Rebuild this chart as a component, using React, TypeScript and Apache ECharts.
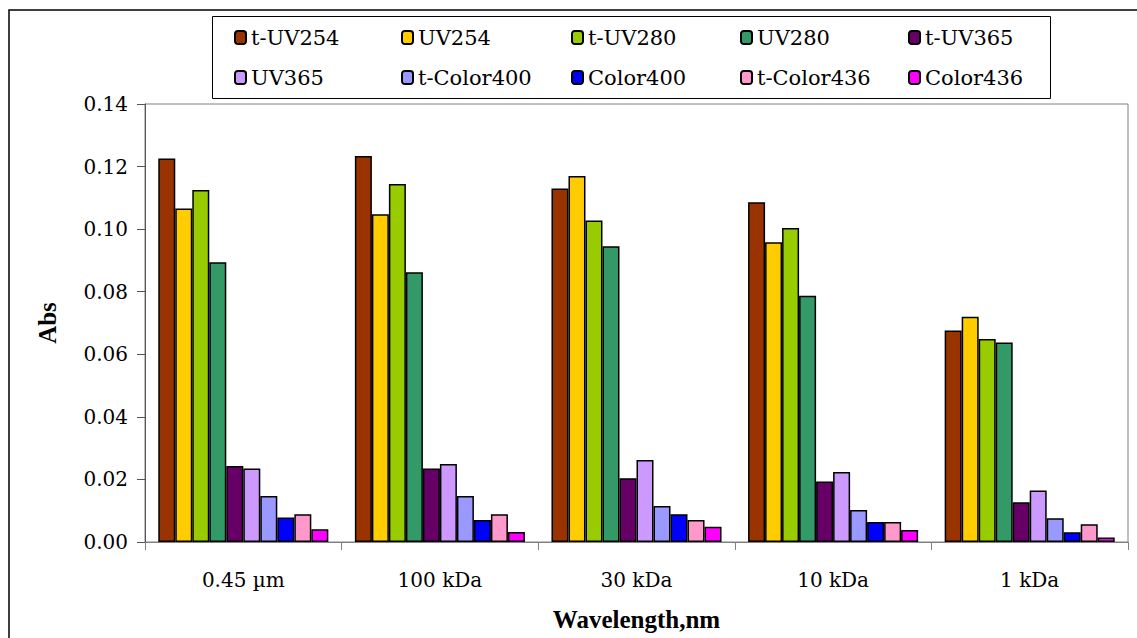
import React, { useEffect, useRef } from "react";
import * as echarts from "echarts";

// Membrane fractions along the x axis
const categories = ["0.45 µm", "100 kDa", "30 kDa", "10 kDa", "1 kDa"];

// Absorbance per fraction (t- = total, plain = filtered)
const tUV254 = [0.1226, 0.1234, 0.113, 0.1086, 0.0676];
const UV254 = [0.1066, 0.1048, 0.117, 0.0958, 0.072];
const tUV280 = [0.1125, 0.1144, 0.1028, 0.1004, 0.0649];
const UV280 = [0.0894, 0.0862, 0.0945, 0.0787, 0.0638];
const tUV365 = [0.0243, 0.0235, 0.0204, 0.0193, 0.0127];
const UV365 = [0.0235, 0.0249, 0.0262, 0.0224, 0.0165];
const tColor400 = [0.0147, 0.0147, 0.0115, 0.0102, 0.0076];
const Color400 = [0.0078, 0.007, 0.0089, 0.0064, 0.0031];
const tColor436 = [0.0089, 0.0089, 0.007, 0.0064, 0.0057];
const Color436 = [0.0041, 0.0032, 0.0049, 0.0038, 0.0014];

const seriesNames = [
  "t-UV254", "UV254", "t-UV280", "UV280", "t-UV365",
  "UV365", "t-Color400", "Color400", "t-Color436", "Color436",
];
const seriesValues = [
  tUV254, UV254, tUV280, UV280, tUV365,
  UV365, tColor400, Color400, tColor436, Color436,
];
const seriesColors = [
  "#993300", "#FFCC00", "#99CC00", "#339966", "#660066",
  "#CC99FF", "#9999FF", "#0000FF", "#FF99CC", "#FF00FF",
];

const yTicks = { min: 0, max: 0.14, interval: 0.02 };

const FONT = "DejaVu Serif";
const FONT_BOLD = "Liberation Serif";

export default function App() {
  const ref = useRef<HTMLDivElement>(null);

  useEffect(() => {
    document.body.style.margin = "0";
    if (!ref.current) return;
    const chart = echarts.init(ref.current, undefined, { renderer: "svg" });

    // five columns of two legend entries each
    const legendCols = [234, 401, 571, 740, 908];
    const legends = legendCols.map((left, i) => ({
      orient: "vertical" as const,
      left,
      top: 27,
      padding: 0,
      itemWidth: 11,
      itemHeight: 13,
      itemGap: 19,
      data: [seriesNames[i], seriesNames[i + 5]],
      textStyle: { fontFamily: FONT, fontSize: 21, color: "#000" },
      selectedMode: false,
    }));

    chart.setOption({
      animation: false,
      backgroundColor: "#fff",
      textStyle: { fontFamily: FONT },
      legend: legends,
      graphic: [
        {
          type: "rect",
          shape: { x: 9, y: 10, width: 1140, height: 640 },
          style: { fill: "none", stroke: "#000", lineWidth: 1.5 },
          silent: true,
        },
        {
          type: "rect",
          shape: { x: 212.5, y: 16.5, width: 838, height: 82 },
          style: { fill: "none", stroke: "#000", lineWidth: 1 },
          silent: true,
        },
      ],
      grid: {
        left: 145,
        top: 104,
        right: 9,
        bottom: 96,
        show: true,
        borderColor: "#808080",
        borderWidth: 1,
        containLabel: false,
      },
      xAxis: {
        type: "category",
        data: categories,
        name: "Wavelength,nm",
        nameLocation: "middle",
        nameGap: 65,
        nameTextStyle: { fontFamily: FONT_BOLD, fontSize: 25, fontWeight: "bold", color: "#000" },
        axisLine: { lineStyle: { color: "#808080", width: 1 } },
        axisTick: { show: true, length: 8, alignWithLabel: false, lineStyle: { color: "#808080" } },
        axisLabel: { fontFamily: FONT, fontSize: 20, color: "#000", margin: 28 },
      },
      yAxis: {
        type: "value",
        min: yTicks.min,
        max: yTicks.max,
        interval: yTicks.interval,
        name: "Abs",
        nameLocation: "middle",
        nameGap: 85,
        nameTextStyle: { fontFamily: FONT_BOLD, fontSize: 25, fontWeight: "bold", color: "#000" },
        axisLine: { show: true, lineStyle: { color: "#555", width: 1 } },
        axisTick: { show: true, length: 8, lineStyle: { color: "#555" } },
        splitLine: { show: false },
        axisLabel: {
          fontFamily: FONT,
          fontSize: 20,
          color: "#000",
          margin: 17,
          formatter: (v: number) => v.toFixed(2),
        },
      },
      series: seriesNames.map((name, i) => ({
        name,
        type: "bar",
        data: seriesValues[i],
        barGap: "0%",
        barCategoryGap: "13.5%",
        itemStyle: { color: seriesColors[i], borderColor: "#000", borderWidth: 1.5 },
      })),
    });

    return () => chart.dispose();
  }, []);

  return <div ref={ref} style={{ width: 1137, height: 638 }} />;
}
